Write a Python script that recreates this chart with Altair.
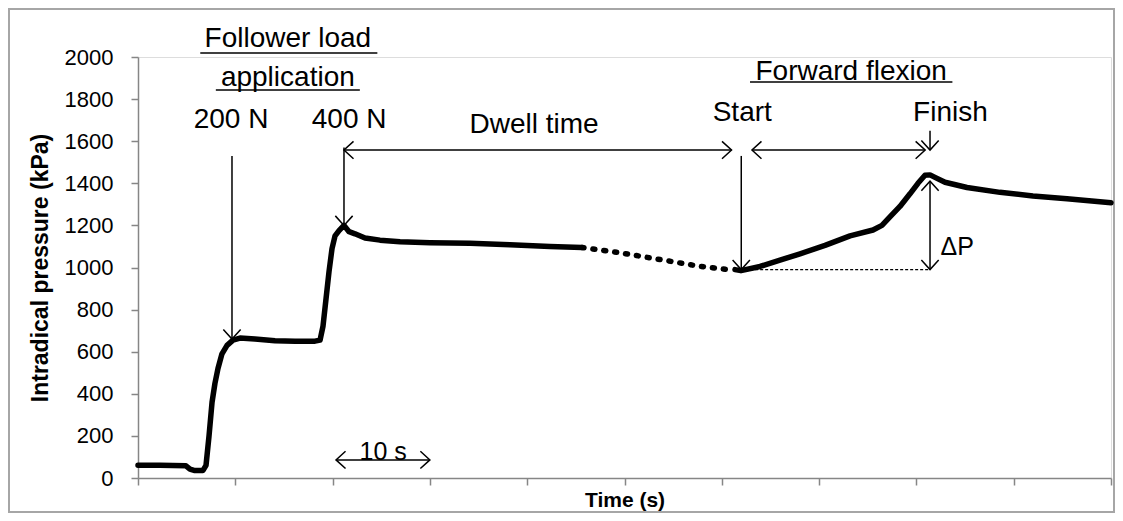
import altair as alt
import pandas as pd

# ---- pressure trace (time in s, pressure in kPa) ----
seg_a_t = [0.0, 2.26, 4.93, 5.34, 5.76, 6.68, 6.99, 7.30, 7.61, 7.91, 8.22, 8.63, 9.15, 9.76,
           10.48, 12.02, 14.08, 16.14, 18.19, 18.71, 19.01, 19.32, 19.63, 19.94, 20.25, 20.66,
           21.17, 21.69, 22.30, 23.33, 24.87, 26.93, 30.01, 34.12, 38.23, 42.34, 45.63]
seg_a_p = [60, 60, 58, 42, 36, 36, 60, 200, 360, 450, 520, 590, 630, 655,
           665, 660, 652, 650, 650, 655, 720, 850, 980, 1090, 1150, 1175,
           1200, 1170, 1160, 1140, 1130, 1122, 1118, 1115, 1108, 1100, 1095]
seg_b_t = [45.63, 49.5, 54.4, 57.8, 60.6]
seg_b_p = [1095, 1070, 1032, 1005, 990]
seg_c_t = [61.36, 61.97, 63.93, 65.98, 68.04, 70.61, 73.18, 75.54, 76.46, 77.28, 78.31,
           79.34, 80.16, 80.88, 81.40, 81.91, 82.94, 85.20, 88.59, 91.98, 95.48, 100.0]
seg_c_p = [990, 985, 1005, 1035, 1065, 1105, 1150, 1178, 1200, 1240, 1290,
           1350, 1400, 1438, 1440, 1428, 1405, 1380, 1357, 1340, 1327, 1308]

# ---- annotation lines (x1, y1) -> (x2, y2) ----
line_x1 = [9.66, 21.17, 21.17, 62.0, 63.1, 81.4, 81.4, 20.35, 6.4, 8.0, 62.9]
line_y1 = [1530, 1570, 1558, 1530, 1558, 1650, 1410, 86, 2019, 1843, 1881]
line_x2 = [9.66, 21.17, 61.0, 62.0, 80.9, 81.4, 81.4, 30.0, 24.6, 22.8, 83.7]
line_y2 = [660, 1200, 1558, 990, 1558, 1558, 990, 86, 2019, 1843, 1881]

# dotted reference line for delta P
dot_x1 = [62.4]
dot_x2 = [81.4]
dot_y = [990]

# ---- arrow heads (tip position, direction in degrees) ----
head_x = [9.66, 21.17, 21.17, 61.0, 62.0, 63.1, 80.9, 81.4, 81.4, 81.4, 20.35, 30.0]
head_y = [660, 1200, 1558, 1558, 990, 1558, 1558, 1558, 1410, 990, 86, 86]
head_a = [90, 90, 180, 0, 90, 180, 0, 90, 270, 90, 180, 0]

# ---- annotation texts ----
big_text = ["Follower load", "application", "200 N", "400 N", "Dwell time", "Start",
            "Forward flexion", "Finish"]
big_x = [15.4, 15.4, 9.56, 21.7, 40.7, 62.1, 73.3, 83.5]
big_y = [2085, 1900, 1700, 1700, 1677, 1734, 1929, 1734]
small_text = ["ΔP", "10 s"]
small_x = [84.2, 25.2]
small_y = [1097, 124]

y_ticks = list(range(0, 2001, 200))
x_ticks = list(range(0, 101, 10))

trace = pd.DataFrame({
    "t": seg_a_t + seg_b_t + seg_c_t,
    "p": seg_a_p + seg_b_p + seg_c_p,
    "seg": ["a"] * len(seg_a_t) + ["b"] * len(seg_b_t) + ["c"] * len(seg_c_t),
})
lines = pd.DataFrame({"x1": line_x1, "y1": line_y1, "x2": line_x2, "y2": line_y2})
dots = pd.DataFrame({"x1": dot_x1, "x2": dot_x2, "y": dot_y})
heads = pd.DataFrame({"x": head_x, "y": head_y, "a": head_a})
bigt = pd.DataFrame({"x": big_x, "y": big_y, "txt": big_text})
smallt = pd.DataFrame({"x": small_x, "y": small_y, "txt": small_text})

FONT = "Liberation Sans"
AX = "#868686"

xs = alt.Scale(domain=[0, 100], nice=False, zero=False)
ys = alt.Scale(domain=[0, 2000], nice=False)

xaxis = alt.Axis(values=x_ticks, labels=False, grid=False, tickSize=7, title="Time (s)",
                 titleFont=FONT, titleFontSize=21, titleFontWeight="bold", titleColor="black",
                 titlePadding=4, domainColor=AX, tickColor=AX, domainWidth=1.5, tickWidth=1.5)
yaxis = alt.Axis(values=y_ticks, format="d", grid=False, tickSize=7, title="Intradical pressure (kPa)",
                 labelFont=FONT, labelFontSize=22, labelColor="black", labelPadding=18,
                 titleFont=FONT, titleFontSize=23, titleFontWeight="bold", titleColor="black",
                 titlePadding=12, domainColor=AX, tickColor=AX, domainWidth=1.5, tickWidth=1.5)

base = alt.Chart(trace)
solid = base.mark_line(color="black", strokeWidth=5.5, strokeCap="round", strokeJoin="round").encode(
    x=alt.X("t:Q", scale=xs, axis=xaxis),
    y=alt.Y("p:Q", scale=ys, axis=yaxis),
    detail="seg:N",
).transform_filter(alt.datum.seg != "b")
dashed = base.mark_line(color="black", strokeWidth=5.5, strokeCap="round", strokeDash=[2, 9]).encode(
    x="t:Q", y="p:Q"
).transform_filter(alt.datum.seg == "b")

rules = alt.Chart(lines).mark_rule(color="black", strokeWidth=1.5).encode(
    x="x1:Q", y="y1:Q", x2="x2:Q", y2="y2:Q")
dotted = alt.Chart(dots).mark_rule(color="black", strokeWidth=1.2, strokeDash=[3, 2]).encode(
    x="x1:Q", x2="x2:Q", y="y:Q")
arrowheads = alt.Chart(heads).mark_point(
    shape="M-1.1,-1L0,0L-1.1,1", filled=False, color="black", strokeWidth=1.5, size=300, opacity=1
).encode(x="x:Q", y="y:Q", angle=alt.Angle("a:Q", scale=None))
big = alt.Chart(bigt).mark_text(font=FONT, fontSize=28, color="black", baseline="middle").encode(
    x="x:Q", y="y:Q", text="txt:N")
small = alt.Chart(smallt).mark_text(font=FONT, fontSize=25, color="black", baseline="middle").encode(
    x="x:Q", y="y:Q", text="txt:N")
frame = alt.Chart(dots).mark_rect(fill=None, stroke="#a6a6a6", strokeWidth=2).encode(
    x=alt.value(-129), x2=alt.value(976), y=alt.value(-48), y2=alt.value(455))

chart = alt.layer(frame, solid, dashed, dotted, rules, arrowheads, big, small).properties(
    width=973, height=421,
    autosize=alt.AutoSizeParams(type="none"),
    padding={"left": 130, "top": 49, "right": 4, "bottom": 35},
).configure_view(stroke=None).configure(background="white")

chart.save("out.html", embed_options={"renderer": "svg", "actions": False})
